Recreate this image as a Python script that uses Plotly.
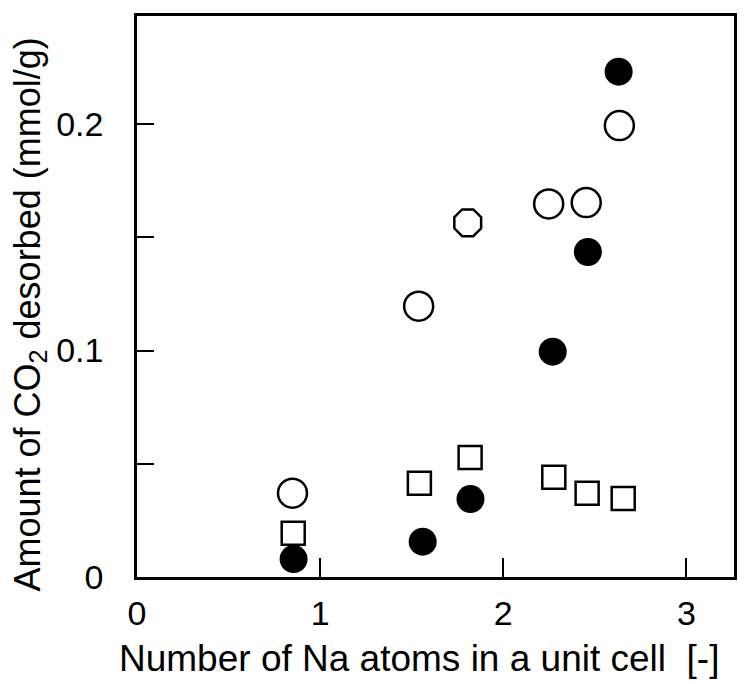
import plotly.graph_objects as go

# Data
x_open = [0.849, 1.538, 1.806, 2.248, 2.453, 2.634]
y_open = [0.0370, 0.1196, 0.1564, 0.1647, 0.1653, 0.1993]
sym_open = ["circle-open", "circle-open", "octagon-open", "circle-open", "circle-open", "circle-open"]

x_filled = [0.855, 1.560, 1.821, 2.270, 2.462, 2.630]
y_filled = [0.0079, 0.0156, 0.0344, 0.0995, 0.1435, 0.2231]

x_square = [0.853, 1.542, 1.819, 2.276, 2.458, 2.655]
y_square = [0.0193, 0.0414, 0.0528, 0.0440, 0.0370, 0.0347]

x_ticks = [0, 1, 2, 3]
y_ticks = [0, 0.05, 0.1, 0.15, 0.2]
y_ticktext = ["0", "", "0.1", "", "0.2"]

x_title = "Number of Na atoms in a unit cell  [-]"
y_title = "Amount of CO<sub>2</sub> desorbed (mmol/g)"

FONT = "Liberation Sans, Arial, sans-serif"

fig = go.Figure()
fig.add_trace(go.Scatter(x=x_open, y=y_open, mode="markers",
                         marker=dict(symbol=sym_open, size=29, color="black",
                                     line=dict(color="black", width=2.5))))
fig.add_trace(go.Scatter(x=x_filled, y=y_filled, mode="markers",
                         marker=dict(symbol="circle", size=28, color="black",
                                     line=dict(width=0))))
fig.add_trace(go.Scatter(x=x_square, y=y_square, mode="markers",
                         marker=dict(symbol="square-open", size=23, color="black",
                                     line=dict(color="black", width=2.5))))

fig.update_layout(
    width=744, height=684,
    margin=dict(l=137, r=7, t=16, b=107),
    paper_bgcolor="white", plot_bgcolor="white",
    showlegend=False,
    font=dict(family=FONT, color="black"),
)
fig.update_xaxes(
    range=[0, 3.26], tickvals=x_ticks, ticktext=[str(v) for v in x_ticks],
    ticks="inside", ticklen=19, tickwidth=2, tickcolor="black",
    showline=True, linecolor="black", linewidth=2.5, mirror=True,
    showgrid=False, zeroline=False,
    tickfont=dict(size=34, family=FONT),
    ticklabelstandoff=4,
)
fig.update_yaxes(
    range=[0, 0.2477], tickvals=y_ticks, ticktext=y_ticktext,
    ticks="inside", ticklen=17, tickwidth=2, tickcolor="black",
    showline=True, linecolor="black", linewidth=2.5, mirror=True,
    showgrid=False, zeroline=False,
    tickfont=dict(size=34, family=FONT),
    ticklabelstandoff=24,
)

fig.add_annotation(text=x_title, xref="paper", yref="paper",
                   x=(420 - 137) / 600, y=(577 - 658) / 561,
                   xanchor="center", yanchor="middle", showarrow=False,
                   font=dict(size=37, family=FONT, color="black"))
fig.add_annotation(text=y_title, xref="paper", yref="paper",
                   x=(29 - 137) / 600, y=(577 - 315) / 561,
                   xanchor="center", yanchor="middle", showarrow=False,
                   textangle=-90,
                   font=dict(size=36, family=FONT, color="black"))

fig.write_html("out.html")
